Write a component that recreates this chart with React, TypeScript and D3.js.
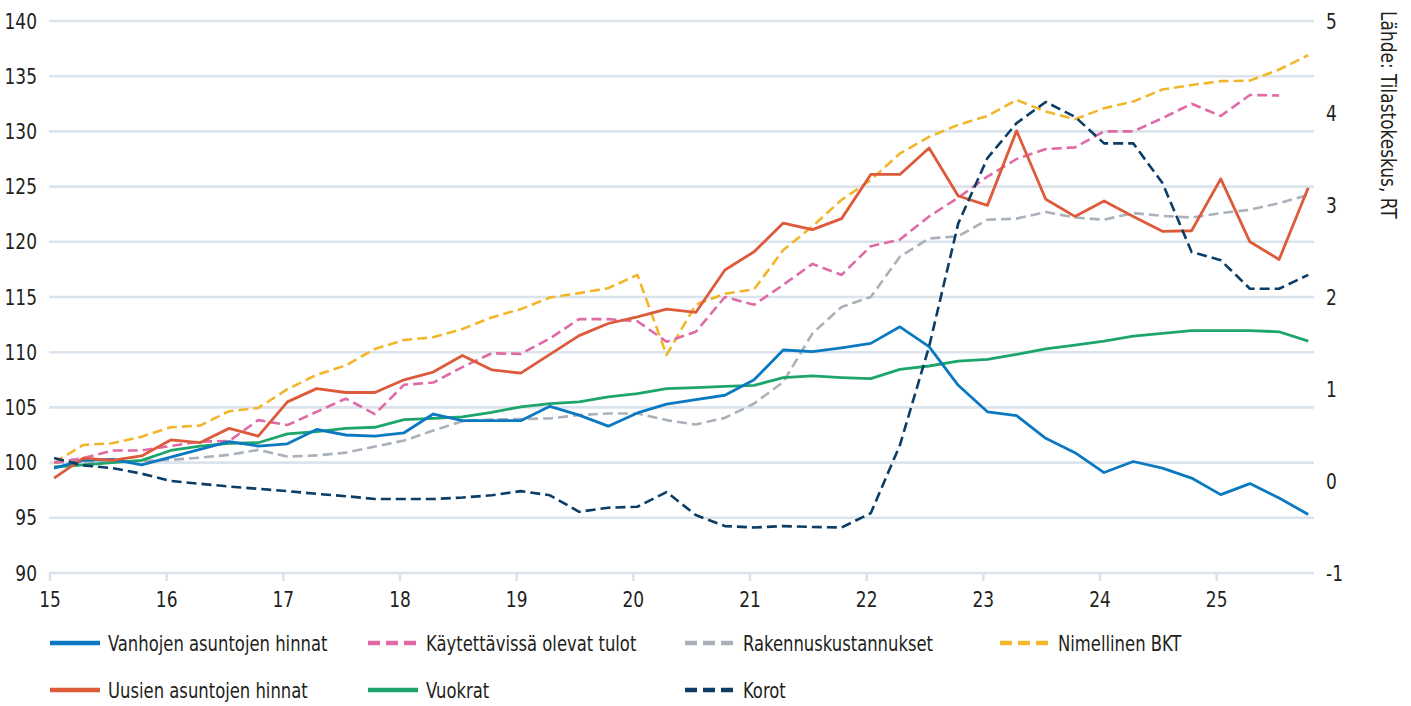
import React from "react";
import * as d3 from "d3";

// ---- data (quarterly, 2015Q1 ... 2025Q4) ----
const yearTicks = [15, 16, 17, 18, 19, 20, 21, 22, 23, 24, 25];
const leftTicks = [90, 95, 100, 105, 110, 115, 120, 125, 130, 135, 140];
const rightTicks = [-1, 0, 1, 2, 3, 4, 5];

const vanhojen = [99.5, 100.2, 100.3, 99.8, 100.5, 101.2, 101.9, 101.5, 101.7, 103.0, 102.5, 102.4, 102.7, 104.4, 103.8, 103.8, 103.8, 105.1, 104.3, 103.3, 104.5, 105.3, 105.7, 106.1, 107.5, 110.2, 110.05, 110.4, 110.8, 112.3, 110.5, 107.0, 104.6, 104.25, 102.2, 100.9, 99.1, 100.1, 99.5, 98.6, 97.1, 98.1, 96.8, 95.3];
const uusien = [98.6, 100.4, 100.2, 100.6, 102.05, 101.8, 103.1, 102.4, 105.5, 106.7, 106.35, 106.35, 107.5, 108.2, 109.7, 108.4, 108.1, 109.8, 111.5, 112.6, 113.2, 113.9, 113.6, 117.45, 119.1, 121.7, 121.1, 122.1, 126.1, 126.1, 128.5, 124.15, 123.3, 130.05, 123.85, 122.3, 123.7, 122.3, 120.95, 121.0, 125.7, 120.0, 118.4, 124.9];
const tulot = [100.0, 100.4, 101.1, 101.1, 101.5, 101.9, 101.95, 103.85, 103.4, 104.6, 105.8, 104.4, 107.05, 107.25, 108.65, 109.9, 109.85, 111.25, 113.0, 113.0, 112.8, 110.95, 111.85, 115.0, 114.3, 116.1, 118.0, 117.0, 119.6, 120.2, 122.3, 124.0, 125.9, 127.5, 128.4, 128.55, 130.0, 130.0, 131.2, 132.5, 131.4, 133.3, 133.25];
const vuokrat = [99.6, 99.8, 100.0, 100.2, 101.1, 101.5, 101.75, 101.8, 102.6, 102.8, 103.1, 103.2, 103.9, 104.0, 104.15, 104.55, 105.05, 105.35, 105.5, 105.95, 106.25, 106.7, 106.8, 106.9, 107.0, 107.7, 107.85, 107.7, 107.6, 108.45, 108.75, 109.2, 109.35, 109.8, 110.3, 110.65, 111.0, 111.45, 111.7, 111.95, 111.95, 111.95, 111.85, 111.0];
const rakennus = [100.0, 100.05, 100.1, 100.15, 100.25, 100.45, 100.7, 101.15, 100.55, 100.65, 100.9, 101.45, 102.0, 102.9, 103.75, 103.9, 103.95, 104.0, 104.3, 104.45, 104.45, 103.85, 103.45, 104.05, 105.35, 107.3, 111.7, 114.1, 115.0, 118.65, 120.3, 120.5, 122.0, 122.1, 122.7, 122.2, 122.0, 122.6, 122.35, 122.2, 122.6, 122.9, 123.5, 124.25];
const bkt = [100.0, 101.6, 101.75, 102.35, 103.2, 103.35, 104.65, 104.95, 106.65, 107.95, 108.8, 110.3, 111.1, 111.35, 112.1, 113.15, 113.9, 114.95, 115.35, 115.8, 117.0, 109.75, 114.3, 115.3, 115.7, 119.25, 121.4, 123.8, 125.6, 128.0, 129.5, 130.6, 131.4, 132.85, 131.8, 131.1, 132.1, 132.7, 133.8, 134.2, 134.55, 134.6, 135.6, 136.9];
const korot = [0.25, 0.17, 0.14, 0.08, 0.0, -0.03, -0.06, -0.085, -0.11, -0.14, -0.165, -0.195, -0.196, -0.196, -0.18, -0.155, -0.11, -0.155, -0.335, -0.29, -0.28, -0.12, -0.37, -0.49, -0.505, -0.49, -0.5, -0.505, -0.35, 0.39, 1.46, 2.8, 3.51, 3.89, 4.12, 3.96, 3.67, 3.67, 3.24, 2.49, 2.4, 2.09, 2.09, 2.24];

const sourceText = "Lähde: Tilastokeskus, RT";

const COLORS = {
  blue: "#0b79c1",
  red: "#dd5a3b",
  pink: "#e06aa6",
  green: "#1ea56b",
  gray: "#a9b1ba",
  yellow: "#f2b62b",
  navy: "#0b3d66",
  grid: "#dbe3ec",
  text: "#231f20",
};

const FONT = "'DejaVu Sans Condensed', 'DejaVu Sans', sans-serif";

type Series = { name: string; data: number[]; color: string; dashed: boolean; right: boolean };

const series: Series[] = [
  { name: "Rakennuskustannukset", data: rakennus, color: COLORS.gray, dashed: true, right: false },
  { name: "Nimellinen BKT", data: bkt, color: COLORS.yellow, dashed: true, right: false },
  { name: "Käytettävissä olevat tulot", data: tulot, color: COLORS.pink, dashed: true, right: false },
  { name: "Vuokrat", data: vuokrat, color: COLORS.green, dashed: false, right: false },
  { name: "Vanhojen asuntojen hinnat", data: vanhojen, color: COLORS.blue, dashed: false, right: false },
  { name: "Uusien asuntojen hinnat", data: uusien, color: COLORS.red, dashed: false, right: false },
  { name: "Korot", data: korot, color: COLORS.navy, dashed: true, right: true },
];

const legendRows: { name: string; color: string; dashed: boolean }[][] = [
  [
    { name: "Vanhojen asuntojen hinnat", color: COLORS.blue, dashed: false },
    { name: "Käytettävissä olevat tulot", color: COLORS.pink, dashed: true },
    { name: "Rakennuskustannukset", color: COLORS.gray, dashed: true },
    { name: "Nimellinen BKT", color: COLORS.yellow, dashed: true },
  ],
  [
    { name: "Uusien asuntojen hinnat", color: COLORS.red, dashed: false },
    { name: "Vuokrat", color: COLORS.green, dashed: false },
    { name: "Korot", color: COLORS.navy, dashed: true },
  ],
];

const W = 1411;
const H = 706;
const PLOT_L = 49;
const PLOT_R = 1314;

const x = d3.scaleLinear().domain([15, 25]).range([50, 1216.67]);
const yL = d3.scaleLinear().domain([90, 140]).range([573, 21]);
const yR = d3.scaleLinear().domain([-1, 5]).range([573, 21]);
const qx = (i: number) => x(15 + i / 4 + 0.035);

function Label(props: {
  x: number;
  y: number;
  size: number;
  sx: number;
  anchor?: "start" | "middle" | "end";
  rotate?: number;
  children: React.ReactNode;
}) {
  const { x: px, y: py, size, sx, anchor = "start", rotate = 0, children } = props;
  return (
    <g transform={`translate(${px}, ${py}) rotate(${rotate}) scale(${sx}, 1)`}>
      <text x={0} y={0} textAnchor={anchor} dominantBaseline="central" fontFamily={FONT} fontSize={size} fill={COLORS.text}>
        {children}
      </text>
    </g>
  );
}

export default function App() {
  const legendX = [50, 368, 685, 1000];
  const legendY = [643, 690];
  return (
    <div style={{ position: "absolute", left: 0, top: 0 }}>
      <svg width={W} height={H} style={{ display: "block", background: "#fff" }}>
        {/* gridlines */}
        {leftTicks.map((t) => (
          <line key={"g" + t} x1={PLOT_L} x2={PLOT_R} y1={yL(t)} y2={yL(t)} stroke={COLORS.grid} strokeWidth={2.6} />
        ))}
        {/* x ticks */}
        {yearTicks.map((t) => (
          <g key={"x" + t}>
            <line x1={x(t)} x2={x(t)} y1={yL(90)} y2={yL(90) + 8} stroke={COLORS.grid} strokeWidth={2.6} />
            <Label x={x(t)} y={599} size={22} sx={0.86} anchor="middle">
              {t}
            </Label>
          </g>
        ))}
        {/* left ticks */}
        {leftTicks.map((t) => (
          <Label key={"l" + t} x={37} y={yL(t)} size={22} sx={0.86} anchor="end">
            {t}
          </Label>
        ))}
        {/* right ticks */}
        {rightTicks.map((t) => (
          <Label key={"r" + t} x={1326} y={yR(t)} size={22} sx={0.86} anchor="start">
            {t}
          </Label>
        ))}
        {/* source */}
        <g transform="translate(1388, 11) rotate(90) scale(0.9, 1)">
          <text x={0} y={0} dominantBaseline="central" fontFamily={FONT} fontSize={21} fill={COLORS.text}>
            {sourceText}
          </text>
        </g>
        {/* lines */}
        {series.map((s) => {
          const yy = s.right ? yR : yL;
          const gen = d3
            .line<number>()
            .x((_, i) => qx(i))
            .y((d) => yy(d));
          return (
            <path
              key={s.name}
              d={gen(s.data) || ""}
              fill="none"
              stroke={s.color}
              strokeWidth={s.dashed ? 2.6 : 2.8}
              strokeDasharray={s.dashed ? "10 5" : undefined}
              strokeLinejoin="round"
            />
          );
        })}
        {/* legend */}
        {legendRows.map((row, r) =>
          row.map((item, c) => (
            <g key={item.name} transform={`translate(${legendX[c]}, ${legendY[r]})`}>
              <line
                x1={0}
                x2={item.dashed ? 48 : 50}
                y1={0}
                y2={0}
                stroke={item.color}
                strokeWidth={4.5}
                strokeDasharray={item.dashed ? "12 6" : undefined}
              />
              <Label x={58} y={0} size={22} sx={0.83}>
                {item.name}
              </Label>
            </g>
          ))
        )}
      </svg>
    </div>
  );
}
